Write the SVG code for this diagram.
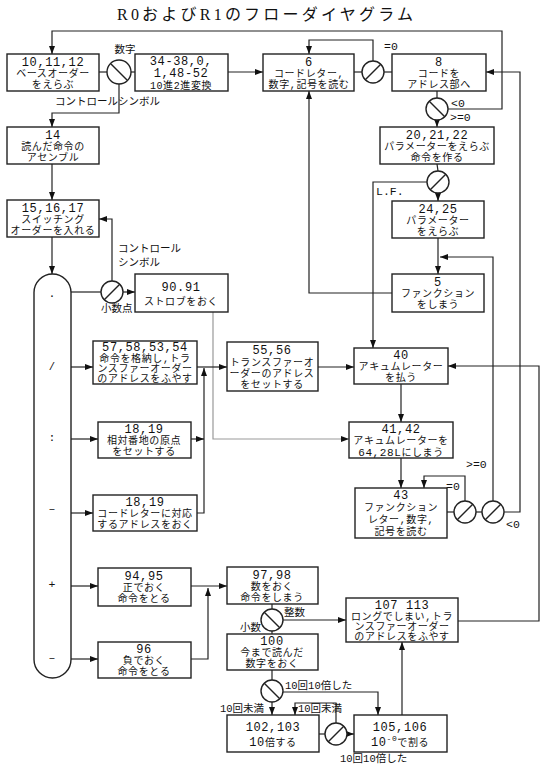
<svg xmlns="http://www.w3.org/2000/svg" width="543" height="768" viewBox="0 0 543 768">
<defs>
<marker id="ah" markerWidth="8" markerHeight="6" refX="8" refY="3" orient="auto" markerUnits="userSpaceOnUse">
<path d="M0,0 L8,3 L0,6 Z" fill="#111"/>
</marker>
<style>
.box{fill:#fff;stroke:#222;stroke-width:1.4}
.c{fill:#fff;stroke:#222;stroke-width:1.4}
.sl{stroke:#222;stroke-width:1.4}
.ln{fill:none;stroke:#222;stroke-width:1.2}
.gr{fill:none;stroke:#999;stroke-width:1.2}
.a{marker-end:url(#ah)}
text{font-family:"Liberation Mono","Noto Sans CJK JP",monospace;fill:#111}
.t{font-size:10px;letter-spacing:0.6px;text-anchor:middle}
.n{font-size:12px;letter-spacing:0.6px;text-anchor:middle}
.l{font-size:10.5px}
.m{font-size:11.5px}
.title{font-family:"Liberation Serif","Noto Sans CJK JP",serif;font-size:16px;text-anchor:middle}
</style>
</defs>
<rect width="543" height="768" fill="#fff"/>
<text class="title" x="265" y="20" textLength="296" lengthAdjust="spacing">R0およびR1のフローダイヤグラム</text>

<g id="connectors">
<line class="ln" x1="99" y1="72" x2="107" y2="72"/>
<line class="ln" x1="131" y1="72" x2="135" y2="72"/>
<line class="ln a" x1="228" y1="72" x2="263" y2="72"/>
<line class="ln" x1="354" y1="72" x2="362" y2="72"/>
<line class="ln" x1="384" y1="72" x2="392" y2="72"/>
<polyline class="ln a" points="373,61 373,40 309,40 309,54"/>
<line class="ln" x1="437" y1="91" x2="437" y2="98"/>
<polyline class="ln a" points="448,109 502,109 502,31 52,31 52,54"/>
<line class="ln a" x1="437" y1="120" x2="437" y2="127"/>
<line class="ln" x1="437" y1="164" x2="438" y2="171"/>
<polyline class="ln a" points="427,182 373,182 373,348"/>
<line class="ln a" x1="438" y1="193" x2="438" y2="201"/>
<line class="ln a" x1="438" y1="238" x2="438" y2="274"/>
<polyline class="ln a" points="493,501 493,257 440,257"/>
<polyline class="ln a" points="392,293 309,293 309,91"/>
<polyline class="ln a" points="119,84 119,113 52,113 52,127"/>
<line class="ln a" x1="52" y1="164" x2="52" y2="200"/>
<line class="ln a" x1="52" y1="237" x2="52" y2="274"/>
<line class="ln" x1="71" y1="292" x2="101" y2="292"/>
<polyline class="ln a" points="112,281 112,219 99,219"/>
<line class="ln a" x1="123" y1="292" x2="135" y2="292"/>
<polyline class="gr a" points="213,312 213,439 349,439"/>
<line class="ln a" x1="71" y1="367" x2="93" y2="367"/>
<line class="ln a" x1="197" y1="367" x2="227" y2="367"/>
<polyline class="ln a" points="197,513 204,513 204,368"/>
<line class="ln a" x1="191" y1="439" x2="204" y2="439"/>
<line class="ln a" x1="71" y1="439" x2="98" y2="439"/>
<line class="ln a" x1="71" y1="513" x2="93" y2="513"/>
<line class="ln a" x1="318" y1="367" x2="354" y2="367"/>
<line class="ln a" x1="401" y1="384" x2="401" y2="422"/>
<line class="ln a" x1="401" y1="458" x2="401" y2="488"/>
<line class="ln" x1="447" y1="512" x2="454" y2="512"/>
<line class="ln" x1="476" y1="512" x2="482" y2="512"/>
<polyline class="ln a" points="465,501 465,476 424,476 424,488"/>
<polyline class="ln a" points="504,512 520,512 520,72 486,72"/>
<line class="ln a" x1="71" y1="586" x2="98" y2="586"/>
<line class="ln a" x1="71" y1="659" x2="98" y2="659"/>
<line class="ln a" x1="191" y1="586" x2="227" y2="586"/>
<polyline class="ln a" points="191,659 208,659 208,588"/>
<line class="ln" x1="272" y1="604" x2="272" y2="609"/>
<line class="ln a" x1="283" y1="620" x2="346" y2="620"/>
<line class="ln" x1="272" y1="631" x2="272" y2="634"/>
<line class="ln" x1="272" y1="670" x2="272" y2="680"/>
<polyline class="ln a" points="283,692 378,692 378,715"/>
<line class="ln a" x1="272" y1="702" x2="272" y2="715"/>
<line class="ln" x1="319" y1="734" x2="325" y2="734"/>
<line class="ln a" x1="347" y1="734" x2="354" y2="734"/>
<polyline class="ln a" points="336,723 336,703 295,703 295,715"/>
<line class="ln a" x1="402" y1="715" x2="402" y2="642"/>
<polyline class="ln a" points="458,621 539,621 539,366 448,366"/>
</g>

<g id="labels">
<text class="l" x="125" y="53" text-anchor="middle">数字</text>
<text class="l" x="55" y="105">コントロールシンボル</text>
<text class="m" x="384" y="50">=0</text>
<text class="m" x="451" y="107">&lt;0</text>
<text class="m" x="450" y="121">&gt;=0</text>
<text class="m" x="376" y="195">L.F.</text>
<text class="l" x="118" y="252">コントロール</text>
<text class="l" x="118" y="266">シンボル</text>
<text class="l" x="101" y="312">小数点</text>
<text class="m" x="446" y="490">=0</text>
<text class="m" x="466" y="468">&gt;=0</text>
<text class="m" x="506" y="528">&lt;0</text>
<text class="l" x="284" y="616">整数</text>
<text class="l" x="240" y="631">小数</text>
<text class="l" x="285" y="689">10回10倍した</text>
<text class="l" x="220" y="712">10回未満</text>
<text class="l" x="298" y="712">10回未満</text>
<text class="l" x="340" y="762">10回10倍した</text>
</g>

<g id="n_switch">
<path class="box" d="M34,292.5 A18.5,18.5 0 0 1 71,292.5 L71,659.5 A18.5,18.5 0 0 1 34,659.5 Z"/>
<text class="m" x="52" y="297" text-anchor="middle">.</text>
<text class="l" x="52" y="370" text-anchor="middle" font-size="9">/</text>
<text class="m" x="52" y="441" text-anchor="middle">:</text>
<text class="m" x="52" y="512" text-anchor="middle">–</text>
<text class="m" x="52" y="588" text-anchor="middle">+</text>
<text class="m" x="52" y="661" text-anchor="middle">–</text>
</g>

<g id="n10">
<rect class="box" x="7" y="54" width="92" height="37"/>
<text class="n" x="53" y="66">10,11,12</text>
<text class="t" x="53" y="77">ベースオーダー</text>
<text class="t" x="53" y="88">をえらぶ</text>
</g>
<g id="n34">
<rect class="box" x="135" y="54" width="93" height="37"/>
<text class="n" x="181" y="64.5" font-size="11px">34-38,0,</text>
<text class="n" x="181" y="77" font-size="11px">1,48-52</text>
<text class="t" x="181" y="88.5">10進2進変換</text>
</g>
<g id="n6">
<rect class="box" x="263" y="54" width="91" height="37"/>
<text class="n" x="309" y="66">6</text>
<text class="t" x="309" y="77">コードレター,</text>
<text class="t" x="309" y="88">数字,記号を読む</text>
</g>
<g id="n8">
<rect class="box" x="392" y="54" width="94" height="37"/>
<text class="n" x="439" y="66">8</text>
<text class="t" x="439" y="77">コードを</text>
<text class="t" x="439" y="88">アドレス部へ</text>
</g>
<g id="n20">
<rect class="box" x="380" y="127" width="114" height="37"/>
<text class="n" x="437" y="139">20,21,22</text>
<text class="t" x="437" y="150">パラメーターをえらぶ</text>
<text class="t" x="437" y="161">命令を作る</text>
</g>
<g id="n24">
<rect class="box" x="392" y="201" width="92" height="37"/>
<text class="n" x="438" y="213">24,25</text>
<text class="t" x="438" y="224">パラメーター</text>
<text class="t" x="438" y="235">をえらぶ</text>
</g>
<g id="n5">
<rect class="box" x="392" y="274" width="92" height="38"/>
<text class="n" x="438" y="286">5</text>
<text class="t" x="438" y="297">ファンクション</text>
<text class="t" x="438" y="308">をしまう</text>
</g>
<g id="n14">
<rect class="box" x="7" y="127" width="92" height="37"/>
<text class="n" x="53" y="139">14</text>
<text class="t" x="53" y="150">読んだ命令の</text>
<text class="t" x="53" y="161">アセンブル</text>
</g>
<g id="n15">
<rect class="box" x="7" y="200" width="92" height="37"/>
<text class="n" x="53" y="212">15,16,17</text>
<text class="t" x="53" y="223">スイッチング</text>
<text class="t" x="53" y="234">オーダーを入れる</text>
</g>
<g id="n90">
<rect class="box" x="135" y="274" width="93" height="38"/>
<text class="n" x="181" y="291">90.91</text>
<text class="t" x="181" y="305">ストロブをおく</text>
</g>
<g id="n57">
<rect class="box" x="93" y="341" width="104" height="43"/>
<text class="n" x="145" y="351" font-size="11px">57,58,53,54</text>
<text class="t" x="145" y="362">命令を格納し,トラ</text>
<text class="t" x="145" y="372">ンスファーオーダー</text>
<text class="t" x="145" y="382">のアドレスをふやす</text>
</g>
<g id="n55">
<rect class="box" x="227" y="342" width="91" height="49"/>
<text class="n" x="272" y="354">55,56</text>
<text class="t" x="272" y="366">トランスファーオ</text>
<text class="t" x="272" y="377">ーダーのアドレス</text>
<text class="t" x="272" y="388">をセットする</text>
</g>
<g id="n40">
<rect class="box" x="354" y="348" width="94" height="36"/>
<text class="n" x="401" y="359">40</text>
<text class="t" x="401" y="370">アキュムレーター</text>
<text class="t" x="401" y="381">を払う</text>
</g>
<g id="n41">
<rect class="box" x="349" y="422" width="104" height="36"/>
<text class="n" x="401" y="433">41,42</text>
<text class="t" x="401" y="444">アキュムレーターを</text>
<text class="t" x="401" y="455.5"><tspan font-size="11px">64,28L</tspan>にしまう</text>
</g>
<g id="n43">
<rect class="box" x="355" y="488" width="92" height="50"/>
<text class="n" x="401" y="499">43</text>
<text class="t" x="401" y="511">ファンクション</text>
<text class="t" x="401" y="523">レター,数字,</text>
<text class="t" x="401" y="535">記号を読む</text>
</g>
<g id="n18a">
<rect class="box" x="98" y="422" width="93" height="36"/>
<text class="n" x="144" y="433">18,19</text>
<text class="t" x="144" y="444">相対番地の原点</text>
<text class="t" x="144" y="455">をセットする</text>
</g>
<g id="n18b">
<rect class="box" x="93" y="495" width="104" height="36"/>
<text class="n" x="145" y="506">18,19</text>
<text class="t" x="145" y="517">コードレターに対応</text>
<text class="t" x="145" y="528">するアドレスをおく</text>
</g>
<g id="n94">
<rect class="box" x="98" y="568" width="93" height="38"/>
<text class="n" x="144" y="580">94,95</text>
<text class="t" x="144" y="591">正でおく</text>
<text class="t" x="144" y="602">命令をとる</text>
</g>
<g id="n96">
<rect class="box" x="98" y="642" width="93" height="36"/>
<text class="n" x="144" y="653">96</text>
<text class="t" x="144" y="664">負でおく</text>
<text class="t" x="144" y="675">命令をとる</text>
</g>
<g id="n97">
<rect class="box" x="227" y="567" width="91" height="37"/>
<text class="n" x="272" y="579">97,98</text>
<text class="t" x="272" y="590">数をおく</text>
<text class="t" x="272" y="601">命令をしまう</text>
</g>
<g id="n100">
<rect class="box" x="227" y="634" width="91" height="36"/>
<text class="n" x="272" y="645">100</text>
<text class="t" x="272" y="656">今まで読んだ</text>
<text class="t" x="272" y="667">数字をおく</text>
</g>
<g id="n102">
<rect class="box" x="227" y="715" width="92" height="37"/>
<text class="n" x="273" y="731">102,103</text>
<text class="t" x="273" y="746"><tspan font-size="12px">10</tspan>倍する</text>
</g>
<g id="n105">
<rect class="box" x="354" y="715" width="93" height="37"/>
<text class="n" x="400" y="731">105,106</text>
<text class="t" x="400" y="746"><tspan font-size="12px">10</tspan><tspan dy="-5" font-size="8px">-0</tspan><tspan dy="5">で割る</tspan></text>
</g>
<g id="n107">
<rect class="box" x="346" y="598" width="112" height="44"/>
<text class="n" x="402" y="609">107 113</text>
<text class="t" x="402" y="620">ロングでしまい,トラ</text>
<text class="t" x="402" y="630">ンスファーオーダー</text>
<text class="t" x="402" y="640">のアドレスをふやす</text>
</g>

<g id="decisions">
<g id="d1"><circle class="c" cx="119" cy="72" r="12"/><line class="sl" x1="111" y1="64" x2="127" y2="80"/></g>
<g id="d2"><circle class="c" cx="373" cy="72" r="11"/><line class="sl" x1="365" y1="80" x2="381" y2="64"/></g>
<g id="d3"><circle class="c" cx="437" cy="109" r="11"/><line class="sl" x1="429" y1="101" x2="445" y2="117"/></g>
<g id="d4"><circle class="c" cx="438" cy="182" r="11"/><line class="sl" x1="430" y1="190" x2="446" y2="174"/></g>
<g id="d5"><circle class="c" cx="112" cy="292" r="11"/><line class="sl" x1="104" y1="300" x2="120" y2="284"/></g>
<g id="d6"><circle class="c" cx="465" cy="512" r="11"/><line class="sl" x1="457" y1="520" x2="473" y2="504"/></g>
<g id="d7"><circle class="c" cx="493" cy="512" r="11"/><line class="sl" x1="485" y1="520" x2="501" y2="504"/></g>
<g id="d8"><circle class="c" cx="272" cy="620" r="11"/><line class="sl" x1="264" y1="612" x2="280" y2="628"/></g>
<g id="d9"><circle class="c" cx="272" cy="691" r="11"/><line class="sl" x1="264" y1="683" x2="280" y2="699"/></g>
<g id="d10"><circle class="c" cx="336" cy="734" r="11"/><line class="sl" x1="328" y1="742" x2="344" y2="726"/></g>
</g>
</svg>
